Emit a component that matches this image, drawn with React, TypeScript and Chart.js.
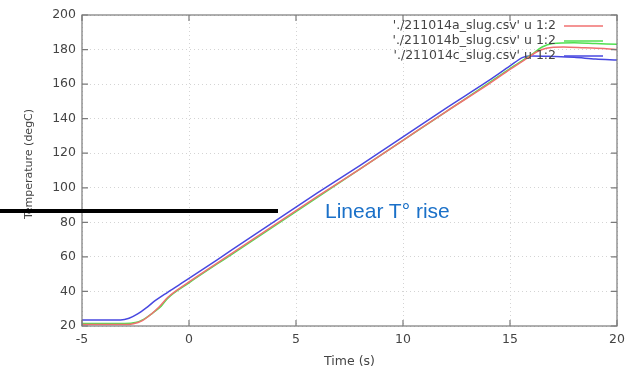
import React, { useEffect, useRef } from "react";
import { Chart, registerables } from "chart.js";

Chart.register(...registerables);

const labelA = "'./211014a_slug.csv' u 1:2";
const labelB = "'./211014b_slug.csv' u 1:2";
const labelC = "'./211014c_slug.csv' u 1:2";

const timeA = [-5, -4, -3, -2.6, -2.2, -1.8, -1.4, -1, 0, 2, 4, 6, 8, 10, 12, 14, 15, 15.8, 16.3, 16.7, 17.5, 18.5, 19.5, 20];
const tempA = [20.8, 20.8, 20.8, 21.3, 23, 26.5, 31, 36.5, 45.5, 62, 78.5, 95, 111, 127.5, 144, 160, 168.5, 175, 179, 180.8, 181.5, 181, 180.5, 180];

const timeB = [-5, -4, -3, -2.5, -2.1, -1.7, -1.3, -1, 0, 2, 4, 6, 8, 10, 12, 14, 15, 16, 16.5, 17, 18, 19, 20];
const tempB = [21.5, 21.5, 21.5, 22, 24, 27.5, 31.5, 36, 45, 61.5, 78, 94.5, 111, 127.5, 144, 160.5, 169, 177, 181.5, 183.5, 184, 183.5, 183];

const timeC = [-5, -4, -3.2, -2.8, -2.4, -2, -1.6, -1, 0, 2, 4, 6, 8, 10, 12, 14, 15, 15.6, 16, 17, 18, 19, 20];
const tempC = [23.5, 23.5, 23.5, 24.5, 27, 30.5, 34.5, 39.5, 47.5, 64, 80.5, 97, 113, 129.5, 146, 162, 170.5, 175.5, 176.3, 176, 175.5, 174.5, 174];

const xTicks = [-5, 0, 5, 10, 15, 20];
const yTicks = [20, 40, 60, 80, 100, 120, 140, 160, 180, 200];

const colorA = "#f07070";
const colorB = "#50e050";
const colorC = "#4848e0";

const FONT = "'DejaVu Sans', Verdana, sans-serif";

const framePlugin = {
  id: "frame",
  afterDraw(chart: any) {
    const { ctx, chartArea: a, scales } = chart;
    const xs = scales.x;
    const ys = scales.y;
    ctx.save();
    ctx.strokeStyle = "#7a7a7a";
    ctx.lineWidth = 1.2;
    ctx.strokeRect(a.left, a.top, a.right - a.left, a.bottom - a.top);
    ctx.beginPath();
    for (const v of xTicks) {
      const px = xs.getPixelForValue(v);
      ctx.moveTo(px, a.bottom);
      ctx.lineTo(px, a.bottom - 6);
      ctx.moveTo(px, a.top);
      ctx.lineTo(px, a.top + 6);
    }
    for (const v of yTicks) {
      const py = ys.getPixelForValue(v);
      ctx.moveTo(a.left, py);
      ctx.lineTo(a.left + 6, py);
      ctx.moveTo(a.right, py);
      ctx.lineTo(a.right - 6, py);
    }
    ctx.stroke();

    // legend (gnuplot style)
    ctx.font = "12.5px " + FONT;
    ctx.fillStyle = "#444";
    ctx.textAlign = "right";
    ctx.textBaseline = "middle";
    const entries = [
      [labelA, colorA],
      [labelB, colorB],
      [labelC, colorC],
    ];
    entries.forEach(([t, c], i) => {
      const y = a.top + 11 + i * 15;
      ctx.fillText(t, a.right - 61, y);
      ctx.strokeStyle = c;
      ctx.lineWidth = 1.5;
      ctx.beginPath();
      ctx.moveTo(a.right - 53, y);
      ctx.lineTo(a.right - 14, y);
      ctx.stroke();
    });

    // axis titles
    ctx.fillStyle = "#444";
    ctx.font = "12.5px " + FONT;
    ctx.textAlign = "center";
    ctx.textBaseline = "middle";
    ctx.fillText("Time (s)", (a.left + a.right) / 2, 362);
    ctx.save();
    ctx.font = "11px " + FONT;
    ctx.translate(29, 164);
    ctx.rotate(-Math.PI / 2);
    ctx.fillText("Temperature (degC)", 0, 0);
    ctx.restore();
    ctx.restore();
  },
};

function pts(t: number[], v: number[]) {
  return t.map((x, i) => ({ x, y: v[i] }));
}

export default function App() {
  const ref = useRef<HTMLCanvasElement>(null);
  useEffect(() => {
    document.body.style.margin = "0";
    const chart = new Chart(ref.current!, {
      type: "line",
      data: {
        datasets: [
          { label: labelA, data: pts(timeA, tempA), borderColor: colorA, borderWidth: 1.5, pointRadius: 0, cubicInterpolationMode: "monotone" },
          { label: labelB, data: pts(timeB, tempB), borderColor: colorB, borderWidth: 1.5, pointRadius: 0, cubicInterpolationMode: "monotone" },
          { label: labelC, data: pts(timeC, tempC), borderColor: colorC, borderWidth: 1.5, pointRadius: 0, cubicInterpolationMode: "monotone" },
        ],
      },
      options: {
        animation: false,
        responsive: false,
        layout: { padding: { top: 15, right: 17, left: 0, bottom: 0 } },
        plugins: { legend: { display: false }, tooltip: { enabled: false } },
        scales: {
          x: {
            type: "linear",
            min: -5,
            max: 20,
            afterBuildTicks: (s: any) => { s.ticks = xTicks.map((v) => ({ value: v })); },
            afterFit: (s: any) => { s.height = 44; },
            ticks: { font: { family: FONT, size: 12.5 }, color: "#444", padding: 6 },
            grid: { color: "#d4d4d4", drawTicks: false },
            border: { display: false, dash: [1, 3] },
          },
          y: {
            min: 20,
            max: 200,
            afterBuildTicks: (s: any) => { s.ticks = yTicks.map((v) => ({ value: v })); },
            afterFit: (s: any) => { s.width = 82; },
            ticks: { font: { family: FONT, size: 12.5 }, color: "#444", padding: 6 },
            grid: { color: "#d4d4d4", drawTicks: false },
            border: { display: false, dash: [1, 3] },
          },
        },
      },
      plugins: [framePlugin],
    } as any);
    return () => chart.destroy();
  }, []);
  return (
    <div style={{ position: "fixed", left: 0, top: 0, width: 634, height: 370, background: "#fff" }}>
      <canvas ref={ref} width={634} height={370} style={{ width: 634, height: 370 }} />
      <div style={{ position: "absolute", left: 0, top: 209, width: 278, height: 4, background: "#000" }} />
      <div style={{ position: "absolute", left: 325, top: 197, fontFamily: "Arial, 'Liberation Sans', sans-serif", fontSize: 21, lineHeight: "28px", color: "#1a70c8", whiteSpace: "nowrap" }}>
        Linear T° rise
      </div>
    </div>
  );
}
